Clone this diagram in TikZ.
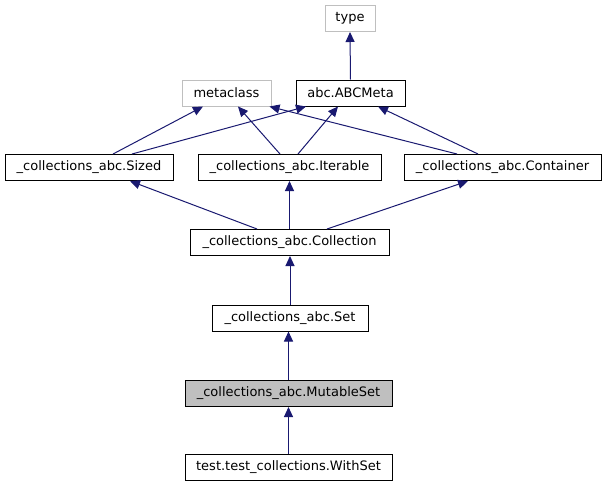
\documentclass[tikz,border=0pt]{standalone}
\usepackage{fontspec}
\setmainfont{DejaVu Sans}
\usetikzlibrary{arrows.meta}
\definecolor{edgeblue}{HTML}{191970}
\definecolor{lightgr}{HTML}{BFBFBF}
\tikzset{
  cls/.style={draw=black, line width=1pt, inner sep=0pt, minimum height=26pt, font=\fontsize{13}{15}\selectfont, fill=white},
  ext/.style={cls, draw=lightgr},
  cur/.style={cls, fill=lightgr},
  inh/.style={draw=edgeblue, line width=1pt, -{Triangle[length=10pt,width=9pt,fill=edgeblue]}},
}
\begin{document}
\begin{tikzpicture}[x=1pt,y=-1pt]
\useasboundingbox (0,0) rectangle (606,485);
\node[ext, minimum width=50pt] (type) at (350,18.5) {type};
\node[ext, minimum width=89pt] (meta) at (226.5,93) {metaclass};
\node[cls, minimum width=109pt] (abcmeta) at (350.5,93) {abc.ABCMeta};
\node[cls, minimum width=168pt] (sized) at (89,167.5) {\_collections\_abc.Sized};
\node[cls, minimum width=183pt] (iter) at (289.5,167.5) {\_collections\_abc.Iterable};
\node[cls, minimum width=197pt] (cont) at (502.5,167.5) {\_collections\_abc.Container};
\node[cls, minimum width=199pt] (coll) at (289.5,242.5) {\_collections\_abc.Collection};
\node[cls, minimum width=156pt] (set) at (290,318) {\_collections\_abc.Set};
\node[cur, minimum width=207pt] (mset) at (288.5,393.5) {\_collections\_abc.MutableSet};
\node[cls, minimum width=207pt] (wset) at (288.5,467.5) {test.test\_collections.WithSet};

\draw[inh] (abcmeta.north) -- (type.south);
\draw[inh] ([xshift=24pt]sized.north) -- ([xshift=-23.5pt]meta.south);
\draw[inh] ([xshift=43pt]sized.north) -- ([xshift=-44.5pt]abcmeta.south);
\draw[inh] ([xshift=-9.5pt]iter.north) -- ([xshift=11.5pt]meta.south);
\draw[inh] ([xshift=8.5pt]iter.north) -- ([xshift=-12.5pt]abcmeta.south);
\draw[inh] ([xshift=-45.5pt]cont.north) -- ([xshift=43pt]meta.south);
\draw[inh] ([xshift=-24.5pt]cont.north) -- ([xshift=27.5pt]abcmeta.south);
\draw[inh] ([xshift=-32.5pt]coll.north) -- ([xshift=41pt]sized.south);
\draw[inh] (coll.north) -- (iter.south);
\draw[inh] ([xshift=37.5pt]coll.north) -- ([xshift=-34.5pt]cont.south);
\draw[inh] (set.north) -- (set.north |- coll.south);
\draw[inh] (mset.north) -- (mset.north |- set.south);
\draw[inh] (wset.north) -- (mset.south);
\end{tikzpicture}
\end{document}
